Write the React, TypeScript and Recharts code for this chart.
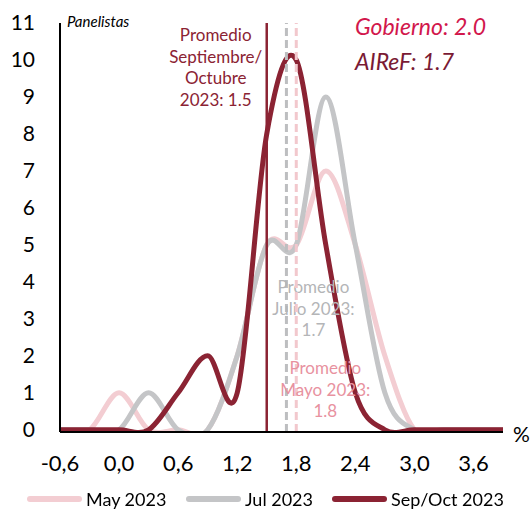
import React from "react"
import {
    LineChart,
    Line,
    XAxis,
    YAxis,
    ReferenceLine,
    Legend,
    Customized
} from "recharts"

// growth expectations (%) and number of panelists per bucket
const growthBuckets = [-0.6, -0.3, 0, 0.3, 0.6, 0.9, 1.2, 1.5, 1.8, 2.1, 2.4, 2.7, 3.0, 3.3, 3.6, 3.9]
const may2023 = [0, 0, 1, 0, 0, 0, 2, 5, 5, 7, 5, 2, 0, 0, 0, 0]
const jul2023 = [0, 0, 0, 1, 0, 0, 2, 5, 5, 9, 5, 1, 0, 0, 0, 0]
const sepOct2023 = [0, 0, 0, 0, 1, 2, 1, 8, 10, 5, 1, 0, 0, 0, 0, 0]

const xTicks = [-0.6, 0, 0.6, 1.2, 1.8, 2.4, 3.0, 3.6]
const yTicks = [0, 1, 2, 3, 4, 5, 6, 7, 8, 9, 10, 11]

const avgMay = 1.8
const avgJul = 1.7
const avgSepOct = 1.5
const gobierno = "2.0"
const airef = "1.7"

const PINK = "#f3cdd2"
const GREY = "#c4c5c7"
const WINE = "#8b2333"
const FONT = "Lato, 'Open Sans', sans-serif"

const data = growthBuckets.map((x, i) => ({
    x,
    may: may2023[i],
    jul: jul2023[i],
    sep: sepOct2023[i]
}))

// smooth line through every point (uniform Catmull-Rom, like spreadsheet smoothing)
const smoothCurve: any = (context: any) => {
    let xs: number[] = []
    let ys: number[] = []
    return {
        areaStart() {},
        areaEnd() {},
        lineStart() {
            xs = []
            ys = []
        },
        point(x: number, y: number) {
            xs.push(+x)
            ys.push(+y)
        },
        lineEnd() {
            const n = xs.length
            if (!n) return
            context.moveTo(xs[0], ys[0])
            for (let i = 0; i < n - 1; i++) {
                const a = Math.max(i - 1, 0)
                const d = Math.min(i + 2, n - 1)
                context.bezierCurveTo(
                    xs[i] + (xs[i + 1] - xs[a]) / 6,
                    ys[i] + (ys[i + 1] - ys[a]) / 6,
                    xs[i + 1] - (xs[d] - xs[i]) / 6,
                    ys[i + 1] - (ys[d] - ys[i]) / 6,
                    xs[i + 1],
                    ys[i + 1]
                )
            }
        }
    }
}

const fmt = (v: number) => v.toFixed(1).replace(".", ",")

function StackedLabel({ x, y, lines, fill }: { x: number; y: number; lines: string[]; fill: string }) {
    return (
        <text x={x} y={y} textAnchor="middle" fill={fill} fontSize={17} fontFamily={FONT}>
            {lines.map((l, i) => (
                <tspan key={i} x={x} dy={i === 0 ? 0 : 21.5}>{l}</tspan>
            ))}
        </text>
    )
}

function Annotations() {
    return (
        <g fontFamily={FONT}>
            <text x={67} y={27} fontSize={15} fontStyle="italic" fill="#000">Panelistas</text>
            <text x={355} y={35} fontSize={23} fontStyle="italic" fill="#d2174c">Gobierno: {gobierno}</text>
            <text x={355} y={70} fontSize={23} fontStyle="italic" fill="#7a1a34">AIReF: {airef}</text>
            <text x={513} y={442} fontSize={21} fill="#000">%</text>
        </g>
    )
}

const legendItems = [
    { label: "May 2023", color: PINK, left: 27 },
    { label: "Jul 2023", color: GREY, left: 186 },
    { label: "Sep/Oct 2023", color: WINE, left: 332 }
]

function LegendContent() {
    return (
        <div style={{ position: "relative", height: 20, width: 531, fontFamily: FONT, fontSize: 18, color: "#000" }}>
            {legendItems.map((it) => (
                <div key={it.label} style={{ position: "absolute", left: it.left, top: 0, height: 20, display: "flex", alignItems: "center", whiteSpace: "nowrap" }}>
                    <span style={{ display: "inline-block", width: 55, height: 6, borderRadius: 3, background: it.color, marginRight: 4 }} />
                    <span style={{ lineHeight: "20px" }}>{it.label}</span>
                </div>
            ))}
        </div>
    )
}

export default function App() {
    return (
        <div style={{ position: "fixed", left: 0, top: 0, width: 531, height: 509, background: "#fff" }}>
            <LineChart
                width={531}
                height={509}
                data={data}
                margin={{ top: 23, right: 28, left: 0, bottom: 0 }}
                style={{ fontFamily: FONT }}
            >
                <XAxis
                    dataKey="x"
                    type="number"
                    domain={[-0.6, 3.9]}
                    ticks={xTicks}
                    tickFormatter={fmt}
                    tickLine={false}
                    tickSize={0}
                    tickMargin={23}
                    height={57}
                    axisLine={{ stroke: "#000", strokeWidth: 2 }}
                    tick={{ fill: "#000", fontSize: 22, fontFamily: FONT }}
                    interval={0}
                />
                {/* a sliver below zero so zero-level lines keep their full width while dips get clipped */}
                <YAxis
                    type="number"
                    domain={[-0.06, 11]}
                    allowDataOverflow
                    ticks={yTicks}
                    width={60}
                    tickLine={false}
                    tickSize={0}
                    tickMargin={25}
                    axisLine={{ stroke: "#000", strokeWidth: 2 }}
                    tick={{ fill: "#000", fontSize: 21, fontFamily: FONT }}
                    interval={0}
                />
                <Line dataKey="may" type={smoothCurve} stroke={PINK} strokeWidth={5} dot={false} activeDot={false} isAnimationActive={false} strokeLinejoin="round" />
                <Line dataKey="jul" type={smoothCurve} stroke={GREY} strokeWidth={5} dot={false} activeDot={false} isAnimationActive={false} strokeLinejoin="round" />
                <Line dataKey="sep" type={smoothCurve} stroke={WINE} strokeWidth={5} dot={false} activeDot={false} isAnimationActive={false} strokeLinejoin="round" />
                <ReferenceLine
                    x={avgSepOct}
                    stroke={WINE}
                    strokeWidth={2.5}
                    label={(p: any) => (
                        <StackedLabel x={p.viewBox.x - 51} y={41} fill={WINE} lines={["Promedio", "Septiembre/", "Octubre", `2023: ${avgSepOct.toFixed(1)}`]} />
                    )}
                />
                <ReferenceLine
                    x={avgJul}
                    stroke="#bdbec0"
                    strokeWidth={3}
                    strokeDasharray="8 4"
                    label={(p: any) => (
                        <StackedLabel x={p.viewBox.x + 27} y={293} fill="#b4b5b7" lines={["Promedio", "Julio 2023:", avgJul.toFixed(1)]} />
                    )}
                />
                <ReferenceLine
                    x={avgMay}
                    stroke="#f2c8cd"
                    strokeWidth={3}
                    strokeDasharray="8 4"
                    label={(p: any) => (
                        <StackedLabel x={p.viewBox.x + 29} y={374} fill="#e8929f" lines={["Promedio", "Mayo 2023:", avgMay.toFixed(1)]} />
                    )}
                />
                <Customized component={Annotations} />
                <Legend verticalAlign="bottom" align="left" content={LegendContent} wrapperStyle={{ left: 0, width: 531, height: 20 }} />
            </LineChart>
        </div>
    )
}
